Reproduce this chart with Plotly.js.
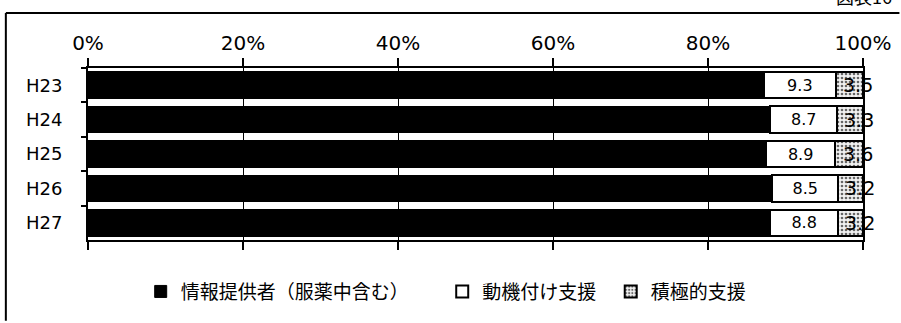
<!DOCTYPE html>
<html>
<head>
<meta charset="utf-8">
<script src="https://cdn.plot.ly/plotly-3.0.1.min.js"></script>
<style>
  html, body { margin: 0; padding: 0; background: #fff; }
  #chart { width: 901px; height: 323px; }
</style>
</head>
<body>
<div id="chart"></div>
<script>
// Fiscal years (top to bottom)
const years = ['H23', 'H24', 'H25', 'H26', 'H27'];

// Share of each group, percent
const infoProvider = [87.2, 88.0, 87.5, 88.3, 88.0];   // 情報提供者（服薬中含む）
const motivational = [9.3, 8.7, 8.9, 8.5, 8.8];        // 動機付け支援
const active       = [3.5, 3.3, 3.6, 3.2, 3.2];        // 積極的支援

const seriesNames = ['情報提供者（服薬中含む）', '動機付け支援', '積極的支援'];
const xTickVals = [0, 20, 40, 60, 80, 100];
const xTickText = ['0%', '20%', '40%', '60%', '80%', '100%'];

const numFont = 'DejaVu Sans, Verdana, sans-serif';
const jpFont = 'Noto Sans CJK JP, sans-serif';

const traces = [
  {
    type: 'bar', orientation: 'h',
    name: seriesNames[0] + '\u3000\u3000',   // extra room before the next legend entry
    y: years, x: infoProvider,
    marker: { color: '#000', line: { color: '#000', width: 1 } },
    hoverinfo: 'skip'
  },
  {
    type: 'bar', orientation: 'h', name: seriesNames[1] + '\u2002',
    y: years, x: motivational,
    text: motivational.map(v => v.toFixed(1)),
    textposition: 'inside', insidetextanchor: 'middle', constraintext: 'none',
    textfont: { family: numFont, size: 16, color: '#000' },
    marker: { color: '#fff', line: { color: '#000', width: 2 } },
    hoverinfo: 'skip'
  },
  {
    type: 'bar', orientation: 'h', name: seriesNames[2],
    y: years, x: active,
    marker: {
      color: '#e6e6e6',
      line: { color: '#000', width: 2 },
      pattern: { shape: '.', fgcolor: '#666', bgcolor: '#f2f2f2', size: 4, solidity: 0.35 }
    },
    hoverinfo: 'skip'
  }
];

// Value labels for the last segment, starting just inside its middle
const activeLabels = years.map((y, i) => ({
  x: 100 - active[i] / 2, y: y, xref: 'x', yref: 'y',
  text: active[i].toFixed(1), showarrow: false,
  xanchor: 'left', xshift: -8,
  font: { family: numFont, size: 19, color: '#000' }
}));

const layout = {
  width: 901, height: 323,
  margin: { l: 88, r: 38, t: 68, b: 80 },
  paper_bgcolor: '#fff', plot_bgcolor: '#fff',
  barmode: 'stack', bargap: 0.23,
  showlegend: true,
  legend: {
    orientation: 'h', x: 0.068, xanchor: 'left', y: -0.3, yanchor: 'middle',
    font: { family: jpFont, size: 19, color: '#000' },
    traceorder: 'normal', itemclick: false
  },
  xaxis: {
    side: 'top', range: [0, 100], tickmode: 'array', tickvals: xTickVals, ticktext: xTickText,
    showgrid: true, gridcolor: '#000', gridwidth: 1,
    showline: true, linecolor: '#000', linewidth: 2, mirror: 'ticks',
    ticks: 'outside', ticklen: 8, tickcolor: '#000', tickwidth: 2,
    tickfont: { family: numFont, size: 20, color: '#000' },
    zeroline: false, fixedrange: true
  },
  yaxis: {
    autorange: 'reversed', type: 'category',
    showline: true, linecolor: '#000', linewidth: 2, mirror: true,
    ticks: 'outside', tickson: 'boundaries', ticklen: 5, tickcolor: '#000', tickwidth: 2,
    ticklabelstandoff: 20,
    tickfont: { family: numFont, size: 18, color: '#000' },
    showgrid: false, fixedrange: true
  },
  annotations: activeLabels.concat([
    {
      text: '図表16', xref: 'paper', yref: 'paper', x: 1.04, y: 1.33,
      xanchor: 'right', yanchor: 'bottom', showarrow: false,
      font: { family: jpFont, size: 18, color: '#000' }
    }
  ]),
  shapes: [
    // outer frame: top and left edges
    { type: 'line', xref: 'paper', yref: 'paper', x0: -0.106, x1: 1.047, y0: 1.32, y1: 1.32,
      line: { color: '#000', width: 2 } },
    { type: 'line', xref: 'paper', yref: 'paper', x0: -0.106, x1: -0.106, y0: 1.32, y1: -0.47,
      line: { color: '#000', width: 2 } }
  ]
};

Plotly.newPlot('chart', traces, layout, { displayModeBar: false, staticPlot: true });
</script>
</body>
</html>
